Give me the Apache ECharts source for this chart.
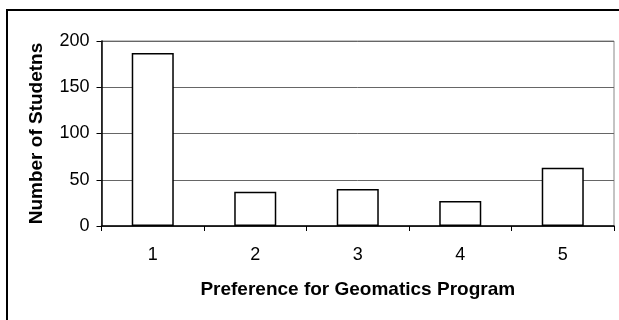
<!DOCTYPE html>
<html>
<head>
<meta charset="utf-8">
<script src="https://cdn.jsdelivr.net/npm/echarts@6/dist/echarts.min.js"></script>
<style>
html,body{margin:0;padding:0;background:#fff;}
#chart{width:619px;height:320px;}
</style>
</head>
<body>
<div id="chart"></div>
<script>
const categories = ['1', '2', '3', '4', '5'];
const students = [187, 37, 40, 27, 63];
const yTicks = [0, 50, 100, 150, 200];
const xTitle = 'Preference for Geomatics Program';
const yTitle = 'Number of Studetns';

const chart = echarts.init(document.getElementById('chart'), null, {renderer: 'canvas'});
const font = '"Liberation Sans", Arial, sans-serif';
chart.setOption({
  animation: false,
  backgroundColor: '#fff',
  graphic: [{
    type: 'rect', silent: true, z: 100,
    shape: {x: 7, y: 10, width: 700, height: 400},
    style: {fill: 'none', stroke: '#000', lineWidth: 2}
  }],
  grid: {
    left: 101.5, right: 5, top: 41, bottom: 94,
    show: true, borderColor: '#888', borderWidth: 1, backgroundColor: 'transparent'
  },
  xAxis: {
    type: 'category',
    data: categories,
    boundaryGap: true,
    name: xTitle,
    nameLocation: 'middle',
    nameGap: 54,
    nameTextStyle: {fontFamily: font, fontWeight: 'bold', fontSize: 19, color: '#000'},
    axisLine: {show: true, lineStyle: {color: '#000', width: 1.5}},
    axisTick: {show: true, length: 5, alignWithLabel: false, lineStyle: {color: '#000', width: 1}},
    axisLabel: {fontFamily: font, fontSize: 18, color: '#000', margin: 20},
    splitLine: {show: false}
  },
  yAxis: {
    type: 'value',
    min: yTicks[0],
    max: yTicks[yTicks.length - 1],
    interval: yTicks[1] - yTicks[0],
    name: yTitle,
    nameLocation: 'middle',
    nameGap: 55,
    nameTextStyle: {fontFamily: font, fontWeight: 'bold', fontSize: 19, color: '#000'},
    axisLine: {show: true, lineStyle: {color: '#000', width: 1.5}},
    axisTick: {show: true, length: 5, lineStyle: {color: '#000', width: 1}},
    axisLabel: {fontFamily: font, fontSize: 18, color: '#000', margin: 12},
    splitLine: {show: true, lineStyle: {color: '#666', width: 1}}
  },
  series: [{
    type: 'bar',
    data: students,
    barWidth: '41%',
    itemStyle: {color: '#fff', borderColor: '#000', borderWidth: 1.5}
  }]
});
</script>
</body>
</html>
